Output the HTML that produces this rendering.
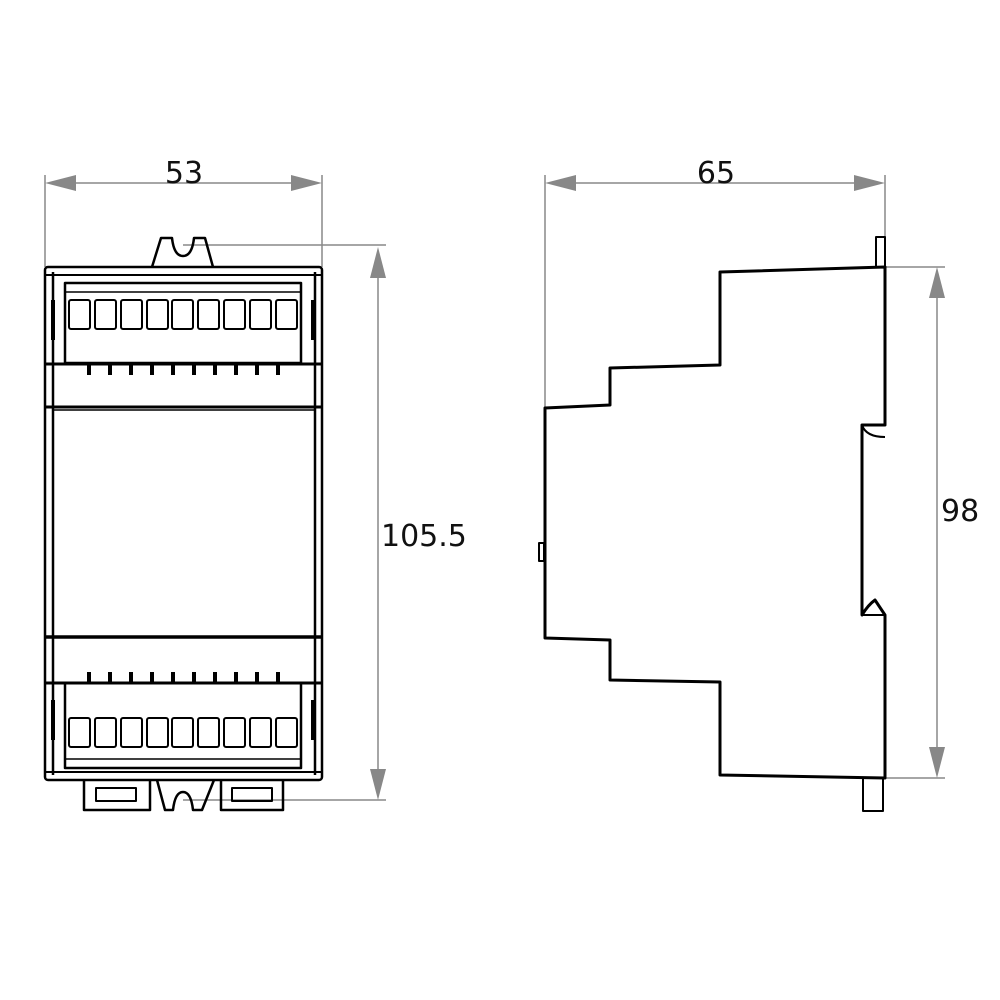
<!DOCTYPE html>
<html><head><meta charset="utf-8"><style>
html,body{margin:0;padding:0;background:#fff}
svg{display:block}
text{font-family:"DejaVu Sans","Liberation Sans",sans-serif;font-size:30px;fill:#111}
</style></head><body>
<svg width="1000" height="1000" viewBox="0 0 1000 1000" xmlns="http://www.w3.org/2000/svg">
<defs>
<g id="sq"><rect x="0" y="0" width="21" height="29" rx="2" fill="none" stroke="#000" stroke-width="2"/></g>
</defs>
<!-- dimension lines -->
<g stroke="#888" stroke-width="1.5" fill="none">
<line x1="45" y1="175" x2="45" y2="267"/>
<line x1="322" y1="175" x2="322" y2="267"/>
<line x1="60" y1="183" x2="308" y2="183"/>
<line x1="183" y1="245" x2="386" y2="245"/>
<line x1="183" y1="800" x2="386" y2="800"/>
<line x1="378" y1="260" x2="378" y2="786"/>
<line x1="545" y1="175" x2="545" y2="408"/>
<line x1="885" y1="175" x2="885" y2="240"/>
<line x1="560" y1="183" x2="870" y2="183"/>
<line x1="885" y1="267" x2="945" y2="267"/>
<line x1="885" y1="778" x2="945" y2="778"/>
<line x1="937" y1="282" x2="937" y2="764"/>
</g>
<g fill="#888">
<polygon points="45,183 76,175 76,191"/>
<polygon points="322,183 291,175 291,191"/>
<polygon points="378,247 370,278 386,278"/>
<polygon points="378,800 370,769 386,769"/>
<polygon points="545,183 576,175 576,191"/>
<polygon points="885,183 854,175 854,191"/>
<polygon points="937,267 929,298 945,298"/>
<polygon points="937,778 929,747 945,747"/>
</g>
<text x="184" y="183" text-anchor="middle">53</text>
<text x="716" y="183" text-anchor="middle">65</text>
<text x="381" y="546">105.5</text>
<text x="941" y="521">98</text>

<!-- FRONT VIEW -->
<g fill="none" stroke="#000" stroke-width="2.5" stroke-linejoin="round">
<!-- top clip -->
<path d="M152,267 L161,238 L172,238 Q174,256 183,256 Q192,256 194,238 L205,238 L213,267"/>
<!-- body -->
<rect x="45" y="267" width="277" height="513" rx="3"/>
<line x1="53" y1="272" x2="53" y2="775"/>
<line x1="315" y1="272" x2="315" y2="775"/>
<line x1="45" y1="275" x2="322" y2="275" stroke-width="2"/>
<!-- top terminal block -->
<rect x="65" y="283" width="236" height="80" stroke-width="2.5"/>
<line x1="45" y1="364" x2="322" y2="364" stroke-width="3"/>
<line x1="65" y1="292" x2="301" y2="292" stroke-width="1.5"/>
<line x1="45" y1="407" x2="322" y2="407" stroke-width="3"/>
<line x1="53" y1="410" x2="315" y2="410" stroke-width="1.5"/>
<line x1="45" y1="637" x2="322" y2="637" stroke-width="3.5"/>
<line x1="45" y1="683" x2="322" y2="683" stroke-width="3"/>
<!-- bottom terminal block -->
<rect x="65" y="683" width="236" height="85" stroke-width="2.5"/>
<line x1="65" y1="759" x2="301" y2="759" stroke-width="1.5"/>
<line x1="45" y1="772" x2="322" y2="772" stroke-width="2"/>
<!-- bottom tabs -->
<path d="M84,780 L84,810 L150,810 L150,780"/>
<rect x="96" y="788" width="40" height="13" stroke-width="2"/>
<path d="M157,780 L165,810 L173,810 Q175,792 183,792 Q191,792 193,810 L202,810 L214,780"/>
<path d="M221,780 L221,810 L283,810 L283,780"/>
<rect x="232" y="788" width="40" height="13" stroke-width="2"/>
</g>
<!-- terminal squares top -->
<g>
<use href="#sq" x="69" y="300"/><use href="#sq" x="95" y="300"/><use href="#sq" x="121" y="300"/>
<use href="#sq" x="147" y="300"/><use href="#sq" x="172" y="300"/><use href="#sq" x="198" y="300"/>
<use href="#sq" x="224" y="300"/><use href="#sq" x="250" y="300"/><use href="#sq" x="276" y="300"/>
<use href="#sq" x="69" y="718"/><use href="#sq" x="95" y="718"/><use href="#sq" x="121" y="718"/>
<use href="#sq" x="147" y="718"/><use href="#sq" x="172" y="718"/><use href="#sq" x="198" y="718"/>
<use href="#sq" x="224" y="718"/><use href="#sq" x="250" y="718"/><use href="#sq" x="276" y="718"/>
</g>
<!-- bumps -->
<g fill="#000">
<rect x="87" y="364" width="4" height="11"/><rect x="108" y="364" width="4" height="11"/><rect x="129" y="364" width="4" height="11"/>
<rect x="150" y="364" width="4" height="11"/><rect x="171" y="364" width="4" height="11"/><rect x="192" y="364" width="4" height="11"/>
<rect x="213" y="364" width="4" height="11"/><rect x="234" y="364" width="4" height="11"/><rect x="255" y="364" width="4" height="11"/>
<rect x="276" y="364" width="4" height="11"/>
<rect x="87" y="672" width="4" height="11"/><rect x="108" y="672" width="4" height="11"/><rect x="129" y="672" width="4" height="11"/>
<rect x="150" y="672" width="4" height="11"/><rect x="171" y="672" width="4" height="11"/><rect x="192" y="672" width="4" height="11"/>
<rect x="213" y="672" width="4" height="11"/><rect x="234" y="672" width="4" height="11"/><rect x="255" y="672" width="4" height="11"/>
<rect x="276" y="672" width="4" height="11"/>
<rect x="51" y="300" width="4" height="40"/><rect x="311" y="300" width="4" height="40"/>
<rect x="51" y="700" width="4" height="40"/><rect x="311" y="700" width="4" height="40"/>
</g>

<!-- SIDE VIEW -->
<g fill="none" stroke="#000" stroke-width="3" stroke-linejoin="round">
<path d="M885,267 L720,272 L720,365 L610,368 L610,405 L545,408 L545,638 L610,640 L610,680 L720,682 L720,775 L885,778 L885,615 L875,600 Q868,605 862,615 L862,425 L885,425 Z"/>
<path d="M862,425 Q866,437 885,437" stroke-width="2"/>
<path d="M862,615 L885,615" stroke-width="2"/>
<rect x="876" y="237" width="9" height="30" stroke-width="2"/>
<rect x="863" y="778" width="20" height="33" stroke-width="2"/>
<rect x="539" y="543" width="5" height="18" stroke-width="2"/>
</g>
</svg>
</body></html>
